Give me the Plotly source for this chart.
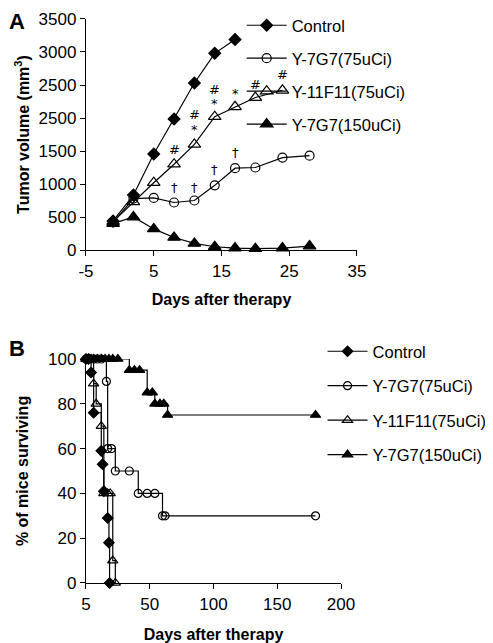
import plotly.graph_objects as go

# ---------------- Panel A data ----------------
days_a = [-1, 2, 5, 8, 11, 14, 17, 20, 24, 28]
control_a = [440, 833, 1455, 1985, 2530, 2980, 3190]
y7g7_75_a = [420, 780, 790, 720, 750, 980, 1240, 1250, 1400, 1430]
y11f11_a = [430, 730, 1020, 1300, 1600, 2020, 2170, 2310, 2420]
y7g7_150_a = [400, 500, 320, 190, 100, 50, 30, 20, 30, 60]

yticks_a = [0, 500, 1000, 1500, 2000, 2500, 3000, 3500]
yticklabels_a = ["0", "500", "1000", "1500", "2500", "2500", "3000", "3500"]
xticks_a = [-5, 5, 15, 25, 35]
xticklabels_a = ["-5", "5", "15", "25", "35"]

# significance marks (x, y, text)
mark_x = [8, 11, 11, 14, 14, 17, 20, 24, 8, 11, 14, 17]
mark_y = [1530, 2060, 1840, 2440, 2230, 2380, 2510, 2660, 950, 950, 1220, 1480]
mark_t = ["#", "#", "*", "#", "*", "*", "#", "#", "†", "†", "†", "†"]

# ---------------- Panel B data ----------------
control_b_x = [0, 2, 4, 6, 12, 13, 14, 17, 18, 18.5]
control_b_y = [100, 100, 94, 76, 59, 53, 41, 29, 18, 0]
y7g7_75_b_x = [0, 3, 6, 9, 12, 16, 17, 20, 23, 34, 41, 48, 54, 60, 62, 180]
y7g7_75_b_y = [100, 100, 100, 100, 100, 90, 60, 60, 50, 50, 40, 40, 40, 30, 30, 30]
y11f11_b_x = [0, 2, 4, 6, 8, 12, 14, 17, 19, 21, 23]
y11f11_b_y = [100, 100, 100, 89, 80, 70, 40, 40, 40, 10, 0]
y7g7_150_b_x = [0, 3, 6, 9, 12, 15, 18, 21, 25, 34, 38, 42, 48, 52, 54, 58, 61, 64, 180]
y7g7_150_b_y = [100, 100, 100, 100, 100, 100, 100, 100, 100, 95, 95, 95, 85, 85, 80, 80, 80, 75, 75]

xticks_b = [0, 50, 100, 150, 200]
xticklabels_b = ["5", "50", "100", "150", "200"]
yticks_b = [0, 20, 40, 60, 80, 100]

names = ["Control", "Y-7G7(75uCi)", "Y-11F11(75uCi)", "Y-7G7(150uCi)"]
symbols = ["diamond", "circle-open", "triangle-up-open", "triangle-up"]
sizes_a = [9, 9, 11, 11]
sizes_b = [8, 8, 9, 9]

FONT = "Liberation Sans, Arial, sans-serif"
fig = go.Figure()

series_a = [control_a, y7g7_75_a, y11f11_a, y7g7_150_a]
for i, ys in enumerate(series_a):
    fig.add_trace(go.Scatter(
        x=days_a[:len(ys)], y=ys, mode="lines+markers", name=names[i],
        line=dict(color="black", width=1.2),
        marker=dict(symbol=symbols[i], size=sizes_a[i], color="black",
                    line=dict(color="black", width=1.2)),
        cliponaxis=False, legend="legend", legendgroup="a%d" % i,
        xaxis="x", yaxis="y"))

series_b = [(control_b_x, control_b_y), (y7g7_75_b_x, y7g7_75_b_y),
            (y11f11_b_x, y11f11_b_y), (y7g7_150_b_x, y7g7_150_b_y)]
for i, (xs, ys) in enumerate(series_b):
    fig.add_trace(go.Scatter(
        x=xs, y=ys, mode="lines+markers", name=names[i],
        line=dict(color="black", width=1.2, shape="hv"),
        marker=dict(symbol=symbols[i], size=sizes_b[i], color="black",
                    line=dict(color="black", width=1.2)),
        cliponaxis=False, legend="legend2", legendgroup="b%d" % i,
        xaxis="x2", yaxis="y2"))

for x, y, t in zip(mark_x, mark_y, mark_t):
    fig.add_annotation(x=x, y=y, text=t, showarrow=False, xref="x", yref="y",
                       borderpad=0, height=12,
                       font=dict(family="DejaVu Sans, Liberation Sans", size=13, color="black"))

axis_common = dict(showline=True, linecolor="black", linewidth=1.3, ticks="outside",
                   ticklen=5, tickcolor="black", tickwidth=1.3, showgrid=False,
                   zeroline=False, automargin=False,
                   tickfont=dict(family=FONT, size=17, color="black"))
title_font = dict(family=FONT, size=16, color="black")
legend_font = dict(family=FONT, size=16.5, color="black")

fig.update_layout(
    width=493, height=643, margin=dict(l=0, r=0, t=0, b=0),
    paper_bgcolor="white", plot_bgcolor="white",
    font=dict(family=FONT, color="black"),
    xaxis=dict(domain=[0.1582, 0.7079], range=[-5, 35], tickvals=xticks_a,
               ticktext=xticklabels_a, anchor="y",
               title=dict(text="<b>Days after therapy</b>", font=title_font, standoff=14),
               **axis_common),
    yaxis=dict(domain=[0.6236, 0.9829], range=[0, 3500], tickvals=yticks_a,
               ticktext=yticklabels_a, anchor="x",
               title=dict(text="<b>Tumor volume (mm<sup>3</sup>)</b>", font=title_font,
                          standoff=5),
               **axis_common),
    xaxis2=dict(domain=[0.1582, 0.6755], range=[0, 200], tickvals=xticks_b,
                ticktext=xticklabels_b, anchor="y2",
                title=dict(text="<b>Days after therapy</b>", font=title_font, standoff=16),
                **axis_common),
    yaxis2=dict(domain=[0.1058, 0.4541], range=[0, 100], tickvals=yticks_b, anchor="x2",
                title=dict(text="<b>% of mice surviving</b>", font=title_font, standoff=15),
                **axis_common),
    legend=dict(x=0.474, y=1.0, xanchor="left", yanchor="top", tracegroupgap=8.5,
                font=legend_font, itemwidth=40, bgcolor="rgba(0,0,0,0)"),
    legend2=dict(x=0.638, y=0.493, xanchor="left", yanchor="top", tracegroupgap=10,
                 font=legend_font, itemwidth=40, bgcolor="rgba(0,0,0,0)"),
    showlegend=True,
)

fig.add_annotation(x=0.0, y=1.0, xref="paper", yref="paper", xanchor="left", yanchor="top",
                   text="<b>A</b>", showarrow=False, borderpad=0,
                   font=dict(family=FONT, size=22))
fig.add_annotation(x=0.0, y=0.491, xref="paper", yref="paper", xanchor="left", yanchor="top",
                   text="<b>B</b>", showarrow=False, borderpad=0,
                   font=dict(family=FONT, size=22))

fig.write_html("out.html")
